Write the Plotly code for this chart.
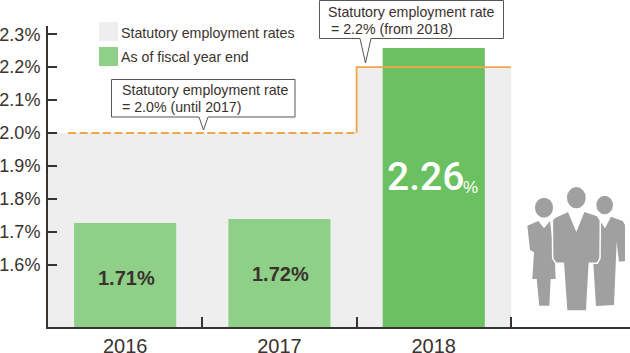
import plotly.graph_objects as go

W, H = 630, 353

# ---- data ----
years = ["2016", "2017", "2018"]
statutory = [2.0, 2.0, 2.2]
actual_bar = [1.726, 1.738, 2.258]
y_ticks = [1.6, 1.7, 1.8, 1.9, 2.0, 2.1, 2.2, 2.3]
y_labels = ["1.6%", "1.7%", "1.8%", "1.9%", "2.0%", "2.1%", "2.2%", "2.3%"]
x_centers = [0, 1, 2]
x_bounds = [0.5, 1.5, 2.5]
until_x = [-0.37, 1.5]
until_y = [2.0, 2.0]
from_x = [1.5, 1.5, 2.5]
from_y = [2.0, 2.2, 2.2]

INK = "#3a322e"
GREY = "#eeeeee"
LIGHT_GREEN = "#8fd088"
GREEN = "#6bc162"
ORANGE = "#f2a44b"
ICON = "#a0a0a0"

X_L, Y_T, Y_B = 48, 26, 327
x_range = [-0.5, -0.5 + (W - X_L) / 154.3]
y_range = [1.6 - (Y_B - 264.5) / 329, 1.6 + (264.5 - Y_T) / 329]


def px(x):
    return x / W


def py(y):
    return 1 - y / H


def path(points):
    return "M" + " L".join(f"{px(x):.5f},{py(y):.5f}" for x, y in points) + " Z"


def z(points):
    # convert coordinates (3x, origin 310,175)
    return [(310 + a / 3, 175 + b / 3) for a, b in points]


fig = go.Figure()
fig.add_bar(x=x_centers, y=statutory, width=1.004, marker=dict(color=GREY, line_width=0), name="Statutory employment rates")
fig.add_bar(x=x_centers, y=actual_bar, width=0.662, marker_color=[LIGHT_GREEN, LIGHT_GREEN, GREEN], marker_line_width=0, name="As of fiscal year end")
fig.add_scatter(x=until_x, y=until_y, mode="lines", line=dict(color=ORANGE, width=2, dash="8px,3.6px"), hoverinfo="skip")
fig.add_scatter(x=from_x, y=from_y, mode="lines", line=dict(color=ORANGE, width=1.8), hoverinfo="skip")
# invisible carrier of the boundary tick axis
fig.add_scatter(x=x_bounds, y=statutory, xaxis="x2", mode="lines", line=dict(width=0), opacity=0, hoverinfo="skip")

shapes = []


def poly(points, fill, line=None, lw=0):
    shapes.append(dict(type="path", xref="paper", yref="paper", path=path(points), fillcolor=fill,
                       line=dict(color=line or fill, width=lw)))


def ell(cx, cy, rx, ry, fill=ICON):
    shapes.append(dict(type="circle", xref="paper", yref="paper", x0=px(cx - rx), x1=px(cx + rx),
                       y0=py(cy + ry), y1=py(cy - ry), fillcolor=fill, line_width=0))


# legend swatches
poly([(99, 22), (118, 22), (118, 41), (99, 41)], GREY)
poly([(99, 47), (118, 47), (118, 66), (99, 66)], LIGHT_GREEN)

# callouts
poly([(111.5, 79.5), (295, 79.5), (295, 117), (208, 117), (203.5, 130), (199, 117), (111.5, 117)], "white", "#5a5552", 1)
poly([(319.5, 0.5), (503.5, 0.5), (503.5, 38.5), (371, 38.5), (365.5, 63), (360, 38.5), (319.5, 38.5)], "white", "#5a5552", 1)

# people icon: left woman
ell(*[310 + 702 / 3, 175 + 98 / 3], 9, 10)
poly(z([(652, 152), (685, 138), (702, 160), (720, 138), (735, 262), (737, 312), (722, 312), (718, 392), (688, 392),
        (680, 312), (667, 312), (672, 232), (660, 225)]), ICON)
# right man
ell(*[310 + 884 / 3, 175 + 90 / 3], 8.3, 9.3)
poly(z([(868, 135), (885, 160), (903, 125), (938, 138), (945, 150), (945, 258), (927, 260), (920, 200), (912, 390), (858, 393),
        (850, 265), (868, 258)]), ICON)
# centre man
ell(*[310 + 799 / 3, 175 + 68 / 3], 9.4, 10.6)
poly(z([(733, 128), (775, 108), (799, 165), (822, 108), (862, 122), (871, 135), (870, 250), (862, 265), (838, 265),
        (830, 408), (770, 408), (760, 265), (738, 265), (728, 250), (727, 135)]), ICON, "white", 1.5)

FONT = "Liberation Sans"
ann = []


def text(x, y, s, size=14.2, color=INK, anchor="left", family=FONT, weight=None):
    f = dict(size=size, color=color, family=family)
    if weight:
        f["weight"] = weight
    ann.append(dict(xref="paper", yref="paper", x=px(x), y=py(y), text=s, showarrow=False, xanchor=anchor,
                    yanchor="middle", font=f))


text(119, 32.5, "Statutory employment rates")
text(119, 57, "As of fiscal year end")
text(120, 90, "Statutory employment rate")
text(120, 107, "= 2.0% (until 2017)")
text(325.5, 12, "Statutory employment rate")
text(329, 29, "= 2.2% (from 2018)")
text(126, 277.5, "<b>1.71%</b>", size=20, anchor="center")
text(280, 274, "<b>1.72%</b>", size=20, anchor="center")
text(385, 177, "2.26", size=39, color="white", family="Roboto", weight=500)
text(461.5, 187, "%", size=17, color="white", family=FONT)

fig.update_layout(
    width=W, height=H, margin=dict(l=0, r=0, t=0, b=0, autoexpand=False), showlegend=False, barmode="overlay",
    paper_bgcolor="white", plot_bgcolor="white", shapes=shapes, annotations=ann,
    font=dict(family=FONT, color=INK),
    xaxis=dict(domain=[X_L / W, 1], range=x_range, tickvals=x_centers, ticktext=years, ticks="", showgrid=False,
               showline=True, linecolor=INK, linewidth=1.5, zeroline=False, tickfont=dict(size=20, color=INK)),
    xaxis2=dict(domain=[X_L / W, 1], range=x_range, overlaying="x", anchor="y", side="bottom", tickvals=x_bounds,
                ticks="inside", ticklen=10, tickwidth=1.5, tickcolor=INK, showticklabels=False, showgrid=False, zeroline=False),
    yaxis=dict(domain=[(H - Y_B) / H, (H - Y_T) / H], range=y_range, tickvals=y_ticks, ticktext=y_labels, ticks="inside",
               ticklen=9, tickwidth=1.5, tickcolor=INK, showgrid=False, zeroline=False, showline=True, linecolor=INK,
               linewidth=2, tickfont=dict(size=18, color=INK), ticklabelstandoff=2),
)
fig.write_html("out.html", config=dict(displayModeBar=False), post_script="document.body.style.margin='0';")
